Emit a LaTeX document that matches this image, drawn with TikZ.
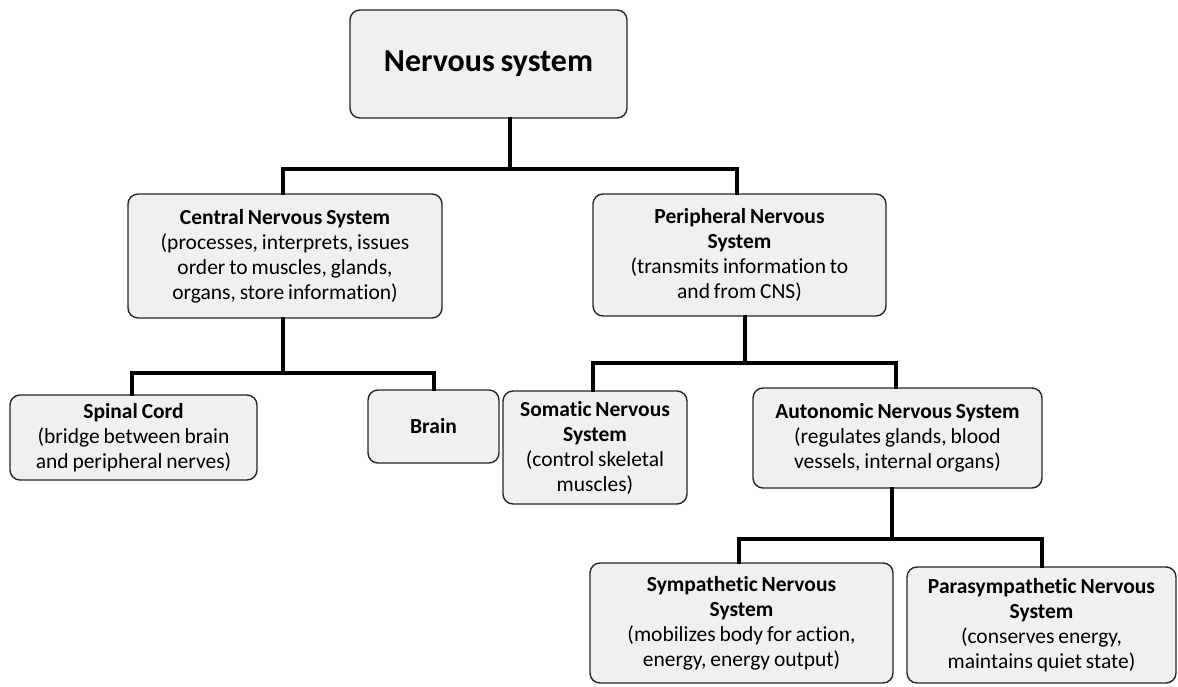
\documentclass[tikz,border=0pt]{standalone}
\usepackage{fontspec}
\setmainfont{Carlito}[Ligatures=NoCommon, WordSpace=0.8]
\definecolor{boxfill}{HTML}{F0F0F0}
\definecolor{boxline}{HTML}{262626}
\tikzset{
  box/.style={draw=boxline, line width=1.4pt, fill=boxfill, rounded corners=10pt,
    align=center, inner sep=0pt, anchor=center,
    font=\fontsize{21.5}{25}\selectfont},
  link/.style={line width=4pt, black, line cap=rect}
}
\begin{document}
\begin{tikzpicture}[x=1pt, y=-1pt]
\useasboundingbox (0,0) rectangle (1178,686);

% boxes
\node[box, minimum width=277pt, minimum height=108pt, font=\fontsize{32}{38}\selectfont\bfseries]
  (ns) at (488.5,64) {Nervous system};
\node[box, minimum width=314pt, minimum height=124pt] (cns) at (285,256)
  {\textbf{Central Nervous System}\\(processes, interprets, issues\\order to muscles, glands,\\organs, store information)};
\node[box, minimum width=293pt, minimum height=122pt] (pns) at (739.5,255)
  {\textbf{Peripheral Nervous}\\\textbf{System}\\(transmits information to\\and from CNS)};
\node[box, minimum width=247pt, minimum height=85pt] (spinal) at (133.5,437.5)
  {\textbf{Spinal Cord}\\(bridge between brain\\and peripheral nerves)};
\node[box, minimum width=131pt, minimum height=73pt] (brain) at (433.5,426.5)
  {\textbf{Brain}};
\node[box, minimum width=184pt, minimum height=113pt] (somatic) at (595,447.5)
  {\textbf{Somatic Nervous}\\\textbf{System}\\(control skeletal\\muscles)};
\node[box, minimum width=289pt, minimum height=100pt] (auto) at (897.5,438)
  {\textbf{Autonomic Nervous System}\\(regulates glands, blood\\vessels, internal organs)};
\node[box, minimum width=303pt, minimum height=120pt] (symp) at (741.5,623)
  {\textbf{Sympathetic Nervous}\\\textbf{System}\\(mobilizes body for action,\\energy, energy output)};
\node[box, minimum width=269pt, minimum height=116pt] (para) at (1041.5,625)
  {\textbf{Parasympathetic Nervous}\\\textbf{System}\\(conserves energy,\\maintains quiet state)};

% bus junctions
\coordinate (b1) at (510,169);
\coordinate (b1l) at (283,169);
\coordinate (b1r) at (737,169);
\coordinate (b2) at (283,373);
\coordinate (b2l) at (132,373);
\coordinate (b2r) at (434,373);
\coordinate (b3) at (745,363);
\coordinate (b3l) at (593,363);
\coordinate (b3r) at (896,363);
\coordinate (b4) at (892,539);
\coordinate (b4l) at (739,539);
\coordinate (b4r) at (1042,539);

% connectors
\draw[link] (b1 |- ns.south) -- (b1);
\draw[link] (b1l |- cns.north) -- (b1l) -- (b1r) -- (b1r |- pns.north);

\draw[link] (b2 |- cns.south) -- (b2);
\draw[link] (b2l |- spinal.north) -- (b2l) -- (b2r) -- (b2r |- brain.north);

\draw[link] (b3 |- pns.south) -- (b3);
\draw[link] (b3l |- somatic.north) -- (b3l) -- (b3r) -- (b3r |- auto.north);

\draw[link] (b4 |- auto.south) -- (b4);
\draw[link] (b4l |- symp.north) -- (b4l) -- (b4r) -- (b4r |- para.north);
\end{tikzpicture}
\end{document}
